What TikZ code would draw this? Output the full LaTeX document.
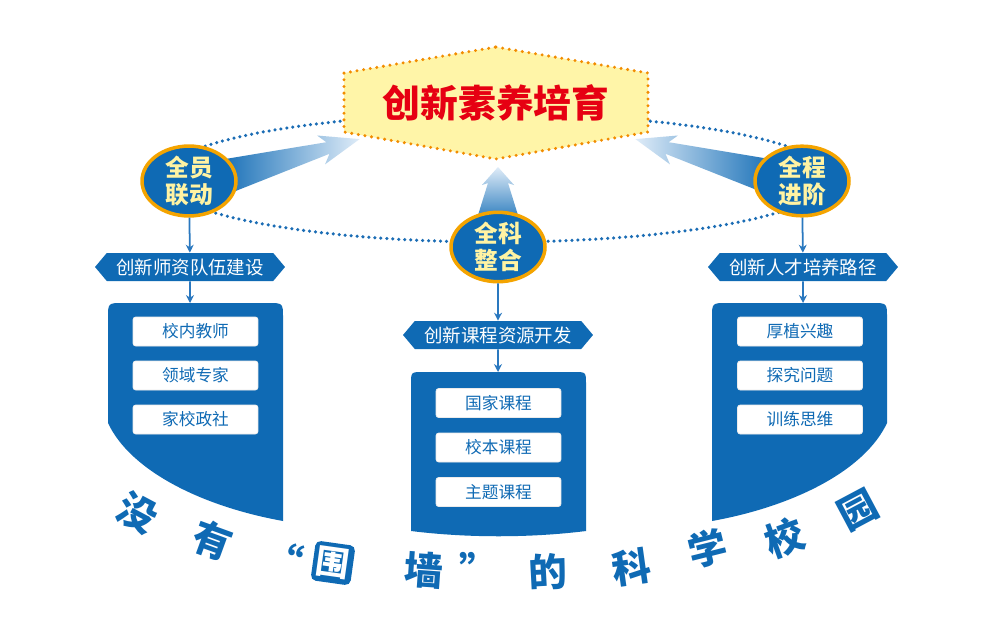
\documentclass[tikz,border=0pt]{standalone}
\usepackage{fontspec}
\setmainfont{Noto Sans CJK SC}
\usetikzlibrary{arrows.meta,shapes.geometric,shapes.symbols}

\definecolor{mainblue}{HTML}{0F6AB4}
\definecolor{linkblue}{HTML}{2A78BF}
\definecolor{fadeblue}{HTML}{DFECF8}
\definecolor{dotblue}{HTML}{1B6DB5}
\definecolor{ringorange}{HTML}{F4A400}
\definecolor{paleyellow}{HTML}{FFF3A3}
\definecolor{hexfill}{HTML}{FFF5A8}
\definecolor{hexdot}{HTML}{F28C00}
\definecolor{titlered}{HTML}{E60012}

\tikzset{
  goal/.style={ellipse, draw=ringorange, line width=2pt, fill=mainblue,
    text=paleyellow, minimum width=1.88cm, minimum height=1.32cm, inner sep=0pt,
    align=center, font=\fontsize{13.5}{15}\selectfont\bfseries},
  banner/.style={signal, signal to=east and west, signal pointer angle=100,
    fill=mainblue, text=white, minimum width=3.8cm, minimum height=0.56cm,
    inner sep=1pt, font=\fontsize{10.5}{12}\selectfont},
  itembox/.style={rectangle, rounded corners=1.5pt, fill=white, draw=black!8,
    text=mainblue, minimum width=2.5cm, minimum height=0.58cm, inner sep=0pt,
    font=\fontsize{9.5}{11}\selectfont},
  link/.style={draw=linkblue, line width=1pt, -{Stealth[length=4.5pt,width=4.5pt]}},
  arcchar/.style={text=mainblue, inner sep=0pt, font=\fontsize{22}{24}\selectfont\bfseries},
}

\begin{document}
\begin{tikzpicture}[x=0.02cm, y=-0.02cm]
  \fill[white] (0,0) rectangle (1000,632);
  \useasboundingbox (0,0) rectangle (1000,632);

  % dotted orbit
  \draw[dotblue, line width=2pt, dash pattern=on 0pt off 3.4pt, line cap=round]
    (496,178) ellipse [x radius=335, y radius=64];

  % big arrows towards the goal
  \shade[left color=mainblue, right color=fadeblue]
    (215.2,160.7) -- (326.3,142.2) -- (317.1,135.5) -- (359.6,139.1)
    -- (325.1,164.3) -- (329.5,153.8) -- (224.8,195.3) -- cycle;
  \shade[left color=fadeblue, right color=mainblue]
    (779.8,160.7) -- (668.7,142.2) -- (677.9,135.5) -- (635.4,139.1)
    -- (669.9,164.3) -- (665.5,153.8) -- (770.2,195.3) -- cycle;
  \shade[top color=fadeblue, bottom color=mainblue]
    (522,228) -- (508,183) -- (514,185) -- (498,167)
    -- (482,185) -- (488,183) -- (474,228) -- cycle;

  % goal
  \draw[fill=hexfill, draw=hexdot, line width=1.9pt, dash pattern=on 0pt off 3.8pt, line cap=round]
    (496,47) -- (648,73) -- (648,132) -- (496,159) -- (344,132) -- (344,73) -- cycle;
  \node[text=titlered, font=\fontsize{21.5}{24}\selectfont\bfseries] (title) at (496,103) {创新素养培育};

  \node[goal] (quanyuan) at (189,181) {全员\\联动};
  \node[goal] (quanke) at (498,247) {全科\\整合};
  \node[goal] (quancheng) at (802,181) {全程\\进阶};

  \node[banner] (shizi) at (190,267) {创新师资队伍建设};
  \node[banner] (kecheng) at (498,335) {创新课程资源开发};
  \node[banner] (rencai) at (803,267) {创新人才培养路径};

  % panels
  \fill[mainblue] (108,423) -- (108,318) .. controls (108,303) .. (123,303) -- (268,303)
    .. controls (283,303) .. (283,318) -- (283,521) .. controls (200,506) and (130,470) .. (108,423) -- cycle;
  \fill[mainblue] (411,531) -- (411,384) .. controls (411,372) .. (423,372) -- (574,372)
    .. controls (586,372) .. (586,384) -- (586,531) .. controls (530,538) and (467,538) .. (411,531) -- cycle;
  \fill[mainblue] (887,423) -- (887,318) .. controls (887,303) .. (872,303) -- (727,303)
    .. controls (712,303) .. (712,318) -- (712,521) .. controls (795,506) and (865,470) .. (887,423) -- cycle;

  \coordinate (shizipanel) at (190,303);
  \coordinate (kechengpanel) at (498,372);
  \coordinate (rencaipanel) at (803,303);

  \draw[link] (quanyuan) -- (shizi);
  \draw[link] (quanke) -- (kecheng);
  \draw[link] (quancheng) -- (rencai);
  \draw[link] (shizi) -- (shizipanel);
  \draw[link] (kecheng) -- (kechengpanel);
  \draw[link] (rencai) -- (rencaipanel);

  \foreach \txt [count=\i] in {校内教师,领域专家,家校政社}
    \node[itembox] (shizi\i) at (195.5,{331.5+44*(\i-1)}) {\txt};
  \foreach \txt [count=\i] in {国家课程,校本课程,主题课程}
    \node[itembox] (kecheng\i) at (498.5,{403+44.5*(\i-1)}) {\txt};
  \foreach \txt [count=\i] in {厚植兴趣,探究问题,训练思维}
    \node[itembox] (rencai\i) at (800,{331.5+44*(\i-1)}) {\txt};

  % arched slogan
  \foreach \ch/\px/\py/\ang [count=\k] in {没/137/513/-28, 有/213/540/-20, 墙/424/570/-4,
      的/548/572/3, 科/632/567/8, 学/708/548/14, 校/785/538/20, 园/858/510/28}
    \node[arcchar, rotate=\ang] (w\k) at (\px,\py) {\ch};
  \node[arcchar, rotate=-14, anchor=north] (lquote) at (287,541) {“};
  \node[arcchar, rotate=0, anchor=north] (rquote) at (479,552) {”};
  \node[rectangle, rounded corners=3pt, fill=mainblue, text=white, rotate=-8,
    minimum size=0.8cm, inner sep=0pt, font=\fontsize{19}{21}\selectfont\bfseries] (wei) at (333,563) {围};
\end{tikzpicture}
\end{document}
